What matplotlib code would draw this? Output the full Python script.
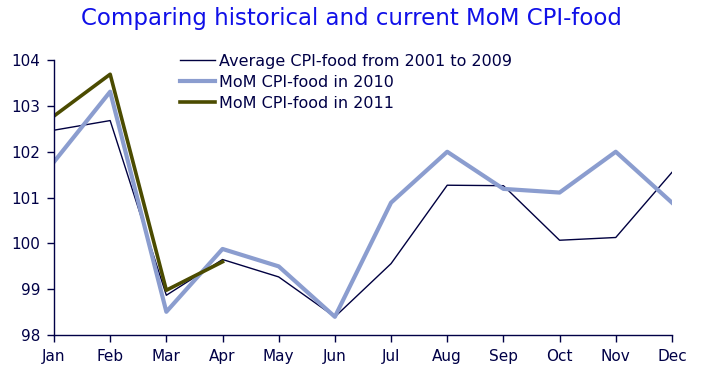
import matplotlib
matplotlib.use('Agg')
import matplotlib.pyplot as plt

months = ['Jan', 'Feb', 'Mar', 'Apr', 'May', 'Jun', 'Jul', 'Aug', 'Sep', 'Oct', 'Nov', 'Dec']
avg_2001_2009 = [102.47, 102.68, 98.87, 99.65, 99.27, 98.40, 99.56, 101.27, 101.26, 100.07, 100.13, 101.55]
mom_2010 = [101.78, 103.31, 98.51, 99.88, 99.50, 98.40, 100.89, 102.00, 101.19, 101.11, 102.00, 100.89]
mom_2011 = [102.78, 103.69, 98.98, 99.60]
y_ticks = [98, 99, 100, 101, 102, 103, 104]

navy = '#000046'

fig = plt.figure(figsize=(7.03, 3.8), dpi=100)
ax = fig.add_axes([0.0768, 0.118, 0.879, 0.724])

x = list(range(len(months)))
ax.plot(x, avg_2001_2009, color='#000040', lw=1.0, label='Average CPI-food from 2001 to 2009')
ax.plot(x, mom_2010, color='#8B9DCF', lw=3.0, label='MoM CPI-food in 2010')
ax.plot(x[:len(mom_2011)], mom_2011, color='#4B4B00', lw=2.6, label='MoM CPI-food in 2011')

ax.set_xlim(0, 11)
ax.set_ylim(98, 104)
ax.set_xticks(x)
ax.set_xticklabels(months)
ax.set_yticks(y_ticks)

for s in ['top', 'right']:
    ax.spines[s].set_visible(False)
for s in ['left', 'bottom']:
    ax.spines[s].set_color(navy)
    ax.spines[s].set_linewidth(1.0)
ax.tick_params(colors=navy, labelsize=11, length=5, width=1.0, pad=5)
for lbl in ax.get_xticklabels() + ax.get_yticklabels():
    lbl.set_color(navy)

leg = ax.legend(loc='upper left', bbox_to_anchor=(0.245, 0.88), bbox_transform=fig.transFigure,
                frameon=False, fontsize=11.5, handlelength=2.2, handletextpad=0.2,
                labelspacing=0.38, borderpad=0)
for t in leg.get_texts():
    t.set_color(navy)

fig.text(0.5, 0.95, 'Comparing historical and current MoM CPI-food', ha='center', va='center',
         fontsize=16.5, color='#1010E8')

fig.savefig('out.png', dpi=100, facecolor='white')
